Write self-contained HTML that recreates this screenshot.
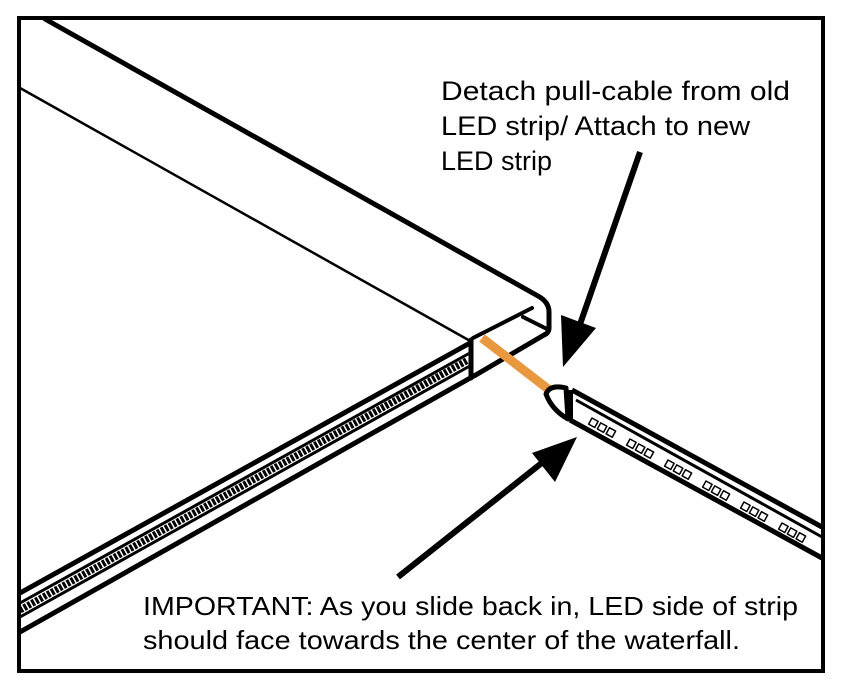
<!DOCTYPE html>
<html><head><meta charset="utf-8"><style>
html,body{margin:0;padding:0;background:#fff}
svg{display:block}
text{font-family:"Liberation Sans",sans-serif;fill:#000}
</style></head><body>
<svg width="846" height="694" viewBox="0 0 846 694" xmlns="http://www.w3.org/2000/svg">
<rect x="19" y="18" width="804" height="653" fill="#fff" stroke="#000" stroke-width="4"/>
<g stroke="#000" fill="none" stroke-linecap="round" stroke-linejoin="round">
<path d="M45 19 L538 296 Q549 302 549 312 L549 328 Q549 333 544 335 L474 376" stroke-width="5"/>
<line x1="20" y1="88" x2="472" y2="342" stroke-width="2.5"/>
<path d="M473 338 L532 308" stroke-width="4"/>
<path d="M523 317 L547 329" stroke-width="4"/>
<line x1="471" y1="340" x2="471" y2="378" stroke-width="5"/>
<line x1="20" y1="593" x2="470" y2="343" stroke-width="5"/>
<line x1="20" y1="603" x2="468" y2="354" stroke-width="3"/>
<line x1="20" y1="610" x2="468" y2="360" stroke-width="7" stroke-dasharray="3 1.5" stroke-linecap="butt"/>
<line x1="20" y1="617" x2="468" y2="367" stroke-width="3"/>
<line x1="20" y1="632" x2="472" y2="377" stroke-width="5"/>
</g>
<line x1="482" y1="338" x2="552" y2="392" stroke="#E8983E" stroke-width="9"/>
<g stroke="#000" fill="none" stroke-linejoin="round">
<path d="M566 388 Q550 384 546 394 Q552 410 568 419 Z" stroke-width="5" fill="#fff"/>
<line x1="570" y1="390" x2="570" y2="420" stroke-width="6"/>
<line x1="572" y1="390" x2="822" y2="527" stroke-width="5"/>
<line x1="576" y1="400" x2="822" y2="537" stroke-width="3"/>
<line x1="570" y1="420" x2="822" y2="558" stroke-width="5"/>
<g stroke-width="1.5">
<g transform="translate(592,418) rotate(29)"><rect x="0" y="0" width="7" height="7"/><rect x="10" y="0" width="7" height="7"/><rect x="20" y="0" width="7" height="7"/></g>
<g transform="translate(630,439) rotate(29)"><rect x="0" y="0" width="7" height="7"/><rect x="10" y="0" width="7" height="7"/><rect x="20" y="0" width="7" height="7"/></g>
<g transform="translate(668,460) rotate(29)"><rect x="0" y="0" width="7" height="7"/><rect x="10" y="0" width="7" height="7"/><rect x="20" y="0" width="7" height="7"/></g>
<g transform="translate(706,481) rotate(29)"><rect x="0" y="0" width="7" height="7"/><rect x="10" y="0" width="7" height="7"/><rect x="20" y="0" width="7" height="7"/></g>
<g transform="translate(744,502) rotate(29)"><rect x="0" y="0" width="7" height="7"/><rect x="10" y="0" width="7" height="7"/><rect x="20" y="0" width="7" height="7"/></g>
<g transform="translate(782,523) rotate(29)"><rect x="0" y="0" width="7" height="7"/><rect x="10" y="0" width="7" height="7"/><rect x="20" y="0" width="7" height="7"/></g>
</g>
</g>
<line x1="640" y1="152" x2="578" y2="330" stroke="#000" stroke-width="6"/>
<polygon points="563,367 561,315 596,328" fill="#000"/>
<line x1="398" y1="577" x2="548" y2="458" stroke="#000" stroke-width="6"/>
<polygon points="577,437 555,482 532,453" fill="#000"/>
<text x="441" y="100" font-size="27" textLength="349" lengthAdjust="spacingAndGlyphs">Detach pull-cable  from old</text>
<text x="441" y="135" font-size="27" textLength="309" lengthAdjust="spacingAndGlyphs">LED strip/ Attach to new</text>
<text x="441" y="170" font-size="27" textLength="111" lengthAdjust="spacingAndGlyphs">LED strip</text>
<text x="143" y="615" font-size="26" textLength="655" lengthAdjust="spacingAndGlyphs">IMPORTANT: As you slide back in, LED side of strip</text>
<text x="143" y="649" font-size="26" textLength="597" lengthAdjust="spacingAndGlyphs">should face towards the center of the waterfall.</text>
</svg>
</body></html>
